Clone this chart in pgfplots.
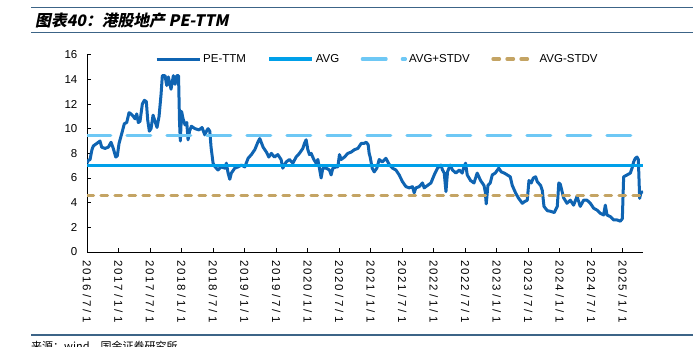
\documentclass[border=0pt]{standalone}
\usepackage{pgfplots}
\pgfplotsset{compat=1.18}
\usepackage{pgfplotstable}
\usepackage{fontspec}
\setmainfont{Liberation Sans}
\newfontfamily\cjk{Noto Sans CJK SC}
\newfontfamily\cjkt[FakeSlant=0.2]{Noto Sans CJK SC}
\definecolor{pe}{RGB}{15,100,178}
\definecolor{avg}{RGB}{0,160,233}
\definecolor{avgp}{RGB}{110,200,245}
\definecolor{avgm}{RGB}{196,164,100}
\definecolor{rule}{RGB}{60,100,135}
\def\spc#1{\spci#1\relax}
\def\spci#1{\ifx\relax#1\else\makebox[7.9pt]{#1}\expandafter\spci\fi}
\pgfplotsset{shortleg/.style={legend image code/.code={\draw[##1] (0pt,0pt) -- (34.5pt,0pt); \path (43pt,0pt);}}}
\pgfplotstableread{
x y
2016.500 7.2
2016.516 7.4
2016.548 7.5
2016.579 8.3
2016.600 8.6
2016.654 8.8
2016.706 9.0
2016.733 8.5
2016.786 8.4
2016.838 8.5
2016.881 8.9
2016.917 8.4
2016.956 7.7
2016.981 7.8
2017.008 8.8
2017.051 9.6
2017.092 10.4
2017.130 10.5
2017.167 11.3
2017.198 11.2
2017.235 11.0
2017.262 10.8
2017.289 11.2
2017.314 10.5
2017.341 10.6
2017.378 12.0
2017.410 12.3
2017.441 12.2
2017.463 10.7
2017.489 9.8
2017.516 10.0
2017.548 11.1
2017.579 10.6
2017.611 10.1
2017.643 11.0
2017.675 12.8
2017.695 14.3
2017.738 14.3
2017.765 13.5
2017.790 14.2
2017.833 13.2
2017.870 14.3
2017.897 13.6
2017.924 14.3
2017.952 14.3
2017.968 10.5
2017.981 9.0
2018.000 11.4
2018.024 10.8
2018.056 10.3
2018.083 10.5
2018.103 9.1
2018.127 9.8
2018.156 10.2
2018.214 10.0
2018.278 9.9
2018.325 10.1
2018.368 9.5
2018.405 9.9
2018.421 10.0
2018.448 9.8
2018.468 8.5
2018.500 7.2
2018.532 6.9
2018.579 6.65
2018.627 6.9
2018.686 6.8
2018.711 7.2
2018.738 6.4
2018.765 5.9
2018.790 6.4
2018.844 6.8
2018.897 6.9
2018.949 7.05
2019.003 6.9
2019.056 7.6
2019.108 7.9
2019.162 8.3
2019.214 8.95
2019.241 9.2
2019.294 8.5
2019.346 8.1
2019.384 7.7
2019.425 8.0
2019.473 7.7
2019.527 7.9
2019.579 7.5
2019.606 6.8
2019.659 7.3
2019.711 7.5
2019.765 7.2
2019.817 7.7
2019.870 8.0
2019.924 8.4
2019.949 8.8
2019.976 9.1
2020.003 8.3
2020.029 7.9
2020.056 8.0
2020.098 7.5
2020.135 7.2
2020.162 7.5
2020.187 6.8
2020.214 6.0
2020.241 6.8
2020.294 6.8
2020.346 6.65
2020.373 6.25
2020.400 6.8
2020.452 6.9
2020.479 6.9
2020.505 7.9
2020.532 7.5
2020.584 7.7
2020.638 8.0
2020.690 8.1
2020.743 8.3
2020.797 8.4
2020.849 8.8
2020.892 8.8
2020.929 8.9
2020.960 8.7
2020.976 8.0
2020.992 7.7
2021.024 6.8
2021.056 6.5
2021.098 6.8
2021.135 7.5
2021.183 7.3
2021.241 7.6
2021.294 7.1
2021.346 6.8
2021.400 6.65
2021.452 6.25
2021.505 5.7
2021.559 5.3
2021.611 5.2
2021.663 5.3
2021.690 4.8
2021.717 5.2
2021.770 5.3
2021.822 5.6
2021.849 5.2
2021.902 5.4
2021.956 5.6
2022.008 6.25
2022.060 6.8
2022.114 7.05
2022.140 6.65
2022.167 6.4
2022.194 4.9
2022.219 6.5
2022.262 7.05
2022.298 6.65
2022.352 6.4
2022.405 6.65
2022.452 6.4
2022.479 6.9
2022.505 7.2
2022.532 6.25
2022.584 5.8
2022.638 5.6
2022.690 6.4
2022.743 5.8
2022.797 5.4
2022.817 4.9
2022.833 3.9
2022.860 5.4
2022.897 5.6
2022.929 6.25
2022.976 6.4
2023.032 6.8
2023.071 6.5
2023.119 6.4
2023.167 6.25
2023.214 6.1
2023.246 5.4
2023.298 4.8
2023.341 4.4
2023.405 3.95
2023.444 4.1
2023.484 4.2
2023.511 5.8
2023.548 5.6
2023.579 6.0
2023.616 6.1
2023.643 5.7
2023.695 5.4
2023.722 5.0
2023.749 3.7
2023.802 3.35
2023.854 3.3
2023.913 3.2
2023.960 3.7
2023.984 5.6
2024.008 5.5
2024.060 4.4
2024.114 3.95
2024.167 4.2
2024.219 3.8
2024.273 4.5
2024.325 3.7
2024.378 4.2
2024.432 4.2
2024.484 3.95
2024.537 3.55
2024.590 3.4
2024.643 3.14
2024.695 3.0
2024.722 3.8
2024.749 3.0
2024.802 2.87
2024.854 2.6
2024.908 2.6
2024.960 2.5
2024.992 2.7
2025.013 6.1
2025.067 6.25
2025.119 6.4
2025.146 6.8
2025.171 7.3
2025.198 7.6
2025.225 7.7
2025.246 7.5
2025.267 4.35
2025.286 4.8
2025.321 4.9
}\pedata
\begin{document}
\begin{tikzpicture}
\useasboundingbox (0pt,0pt) rectangle (693pt,346pt);
\draw[rule, line width=1.5pt] (31pt,338.6pt) -- (693pt,338.6pt);
\draw[rule, line width=1.5pt] (31pt,313.3pt) -- (693pt,313.3pt);
\draw[rule, line width=1.5pt] (31pt,11pt) -- (693pt,11pt);
\node[anchor=west, inner sep=0pt, font=\cjkt\bfseries\fontsize{15.8}{18}\selectfont] at (35pt,325pt) {图表40：港股地产 PE-TTM};
\node[anchor=north west, inner sep=0pt, font=\cjk\fontsize{11}{13}\selectfont] at (31pt,5pt) {来源：wind，国金证券研究所};
\begin{axis}[
  at={(87pt,94pt)}, anchor=south west,
  scale only axis, width=556pt, height=197.3pt,
  xmin=2016.5, xmax=2025.32, ymin=0, ymax=16,
  axis x line*=bottom, axis y line*=left,
  axis line style={-, black, line width=0.8pt},
  tick align=inside, major tick length=4pt,
  tick style={black, line width=0.8pt},
  xtick={2016.5,2017,2017.5,2018,2018.5,2019,2019.5,2020,2020.5,2021,2021.5,2022,2022.5,2023,2023.5,2024,2024.5,2025},
  xticklabels={\spc{2016/7/1},\spc{2017/1/1},\spc{2017/7/1},\spc{2018/1/1},\spc{2018/7/1},\spc{2019/1/1},\spc{2019/7/1},\spc{2020/1/1},\spc{2020/7/1},\spc{2021/1/1},\spc{2021/7/1},\spc{2022/1/1},\spc{2022/7/1},\spc{2023/1/1},\spc{2023/7/1},\spc{2024/1/1},\spc{2024/7/1},\spc{2025/1/1}},
  xticklabel style={rotate=-90, anchor=west, inner sep=0pt, font=\fontsize{11.5}{13}\selectfont},
  xticklabel shift=8pt,
  ytick={0,2,...,16},
  yticklabel style={anchor=east, inner sep=0pt, xshift=-9.5pt, font=\fontsize{11.5}{13}\selectfont},
  /pgf/number format/assume math mode=true,
  legend columns=4,
  legend style={at={(0.1223,0.978)}, anchor=west, draw=none, fill=none, inner sep=0pt,
    font=\fontsize{11.5}{13}\selectfont,
    /tikz/every even column/.append style={column sep=19.5pt}},
  legend cell align=left,
  legend image code/.code={\draw[#1] (0pt,0pt) -- (43pt,0pt);},
]
\addplot[pe, line width=3pt, line join=round, no markers] table[x=x,y=y] {\pedata};
\addlegendentry{PE-TTM}
\addplot[avg, line width=3.3pt, no markers] coordinates {(2016.5,7.0) (2025.32,7.0)};
\addlegendentry{AVG}
\addplot[avgp, line width=3.3pt, line cap=round, dash pattern=on 23.7pt off 16.3pt, no markers] coordinates {(2016.5,9.43) (2025.32,9.43)};
\addlegendentry{AVG+STDV}
\addplot[avgm, line width=3.3pt, line cap=round, dash pattern=on 6.5pt off 7.5pt, no markers, shortleg] coordinates {(2016.5,4.57) (2025.32,4.57)};
\addlegendentry{AVG-STDV}
\end{axis}
\end{tikzpicture}
\end{document}
